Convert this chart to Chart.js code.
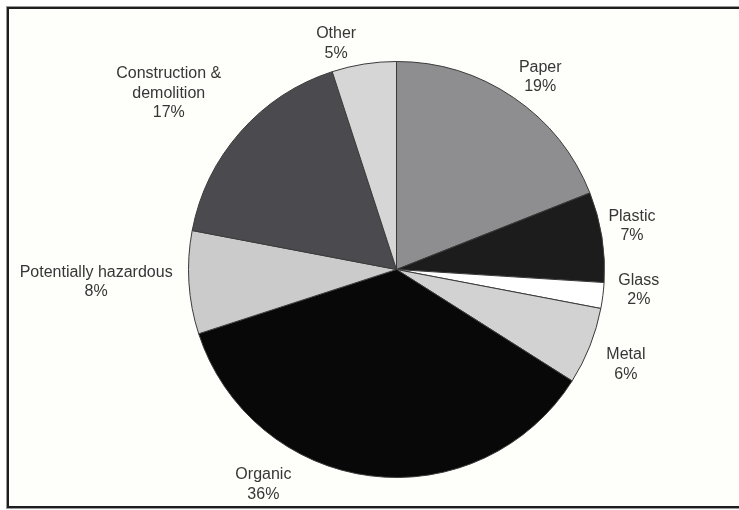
<!DOCTYPE html>
<html>
<head>
<meta charset="utf-8">
<script src="https://cdn.jsdelivr.net/npm/chart.js@4.4.1/dist/chart.umd.min.js"></script>
<style>
  html, body { margin: 0; padding: 0; background: #ffffff; }
  #wrap { position: relative; width: 739px; height: 510px; overflow: hidden; }
  #frame {
    position: absolute; left: 7px; top: 7px; width: 740px; height: 497px;
    border: 2px solid #1e1e1e; background: #fefefb;
    box-shadow: 0 0 0 1px #9a9a9a;
  }
  #grafico { position: absolute; left: 0; top: 0; }
</style>
</head>
<body>
<div id="wrap">
  <div id="frame"></div>
  <canvas id="grafico" width="739" height="510"></canvas>
</div>
<script>
// Dados (sentido horário a partir do topo)
const categorias = ["Paper", "Plastic", "Glass", "Metal", "Organic", "Potentially hazardous", "Construction & demolition", "Other"]
const percentuais = [19, 7, 2, 6, 36, 8, 17, 5]
const linhasRotulo = [
  ["Paper"], ["Plastic"], ["Glass"], ["Metal"], ["Organic"],
  ["Potentially hazardous"], ["Construction &", "demolition"], ["Other"]
]
const cores = ["#8e8e90", "#1c1c1c", "#ffffff", "#d2d2d2", "#080808", "#cbcbcb", "#4b4b4f", "#d6d6d6"]

// Posição dos rótulos em unidades do raio, relativo ao centro
const rotuloDx = [0.691, 1.132, 1.165, 1.103, -0.64, -1.444, -1.095, -0.29]
const rotuloDy = [-0.926, -0.209, 0.098, 0.458, 1.034, 0.06, -0.847, -1.086]

const pluginRotulos = {
  id: "rotulos",
  afterDraw(chart) {
    const arco = chart.getDatasetMeta(0).data[0]
    const cx = arco.x, cy = arco.y, r = arco.outerRadius
    const ctx = chart.ctx
    ctx.save()
    ctx.font = "16px 'Liberation Sans', Arial, sans-serif"
    ctx.fillStyle = "#363636"
    ctx.textAlign = "center"
    ctx.textBaseline = "middle"
    const alturaLinha = 19.5
    categorias.forEach((c, i) => {
      const linhas = linhasRotulo[i].concat([percentuais[i] + "%"])
      const x = cx + rotuloDx[i] * r
      const y0 = cy + rotuloDy[i] * r - (linhas.length - 1) * alturaLinha / 2
      linhas.forEach((t, j) => ctx.fillText(t, x, y0 + j * alturaLinha))
    })
    ctx.restore()
  }
}

const ctxGrafico = document.getElementById("grafico").getContext("2d")
new Chart(ctxGrafico, {
  type: "pie",
  data: {
    labels: categorias,
    datasets: [{
      data: percentuais,
      backgroundColor: cores,
      borderColor: "#3a3a3a",
      borderWidth: 1
    }]
  },
  options: {
    responsive: false,
    animation: false,
    layout: { padding: { left: 188, right: 134, top: 61, bottom: 32 } },
    plugins: {
      legend: { display: false },
      tooltip: { enabled: false }
    }
  },
  plugins: [pluginRotulos]
})
</script>
</body>
</html>
